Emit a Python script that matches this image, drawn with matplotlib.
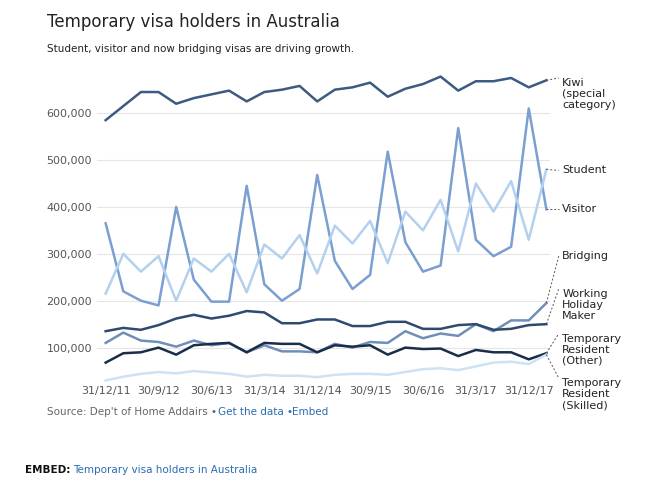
import matplotlib.pyplot as plt

# Quarterly data, 31/12/11 to 31/3/18
dates = ["31/12/11", "31/3/12", "30/6/12", "30/9/12", "31/12/12", "31/3/13", "30/6/13",
         "30/9/13", "31/12/13", "31/3/14", "30/6/14", "30/9/14", "31/12/14", "31/3/15",
         "30/6/15", "30/9/15", "31/12/15", "31/3/16", "30/6/16", "30/9/16", "31/12/16",
         "31/3/17", "30/6/17", "30/9/17", "31/12/17", "31/3/18"]
kiwi = [585, 615, 645, 645, 620, 632, 640, 648, 625, 645, 650, 658, 625, 650, 655, 665,
        635, 652, 662, 678, 648, 668, 668, 675, 655, 670]
visitor = [365, 220, 200, 190, 400, 245, 198, 198, 445, 235, 200, 225, 468, 285, 225, 255,
           518, 325, 262, 275, 568, 330, 295, 315, 610, 395]
student = [215, 300, 262, 295, 200, 290, 262, 300, 218, 320, 290, 340, 258, 360, 322, 370,
           280, 390, 350, 415, 305, 450, 390, 455, 330, 480]
bridging = [110, 132, 115, 112, 102, 115, 105, 110, 90, 105, 92, 92, 90, 108, 100, 112,
            110, 135, 120, 130, 125, 150, 135, 158, 158, 195]
working_holiday = [135, 142, 138, 148, 162, 170, 162, 168, 178, 175, 152, 152, 160, 160, 146,
                   146, 155, 155, 140, 140, 148, 150, 138, 140, 148, 150]
tr_other = [68, 88, 90, 100, 85, 105, 108, 110, 90, 110, 108, 108, 90, 105, 102, 105, 85,
            100, 97, 98, 82, 95, 90, 90, 75, 88]
tr_skilled = [30, 38, 44, 48, 45, 50, 47, 44, 38, 42, 40, 40, 37, 42, 44, 44, 42, 48, 54, 56,
              52, 60, 68, 70, 65, 85]

series = [
    ("Kiwi\n(special\ncategory)", kiwi, "#3d5a80", 670, 675),
    ("Visitor", visitor, "#7b9fd0", 395, 395),
    ("Student", student, "#b3d1ee", 480, 478),
    ("Bridging", bridging, "#6f8fb8", 195, 295),
    ("Working\nHoliday\nMaker", working_holiday, "#2e4a6e", 150, 225),
    ("Temporary\nResident\n(Other)", tr_other, "#1a2e4a", 88, 130),
    ("Temporary\nResident\n(Skilled)", tr_skilled, "#cde3f5", 85, 35),
]

fig = plt.figure(figsize=(6.5, 4.87), dpi=100)
fig.patch.set_facecolor("white")
ax = fig.add_axes([0.149, 0.214, 0.697, 0.65])
ax.set_facecolor("white")

x = list(range(len(dates)))
for name, vals, color, endv, labv in series:
    ax.plot(x, [v * 1000 for v in vals], color=color, lw=1.8)
    ax.plot([x[-1], x[-1] + 0.7], [endv * 1000, labv * 1000], color="#555555",
            lw=0.7, ls=(0, (2, 2)), clip_on=False)
    ax.text(x[-1] + 0.9, labv * 1000, name, fontsize=8, color="#222222",
            va="top" if "\n" in name else "center", ha="left", linespacing=1.15)

ax.set_xlim(-0.5, 25.2)
ax.set_ylim(25000, 700000)
ax.set_yticks([100000, 200000, 300000, 400000, 500000, 600000])
ax.set_yticklabels(["100,000", "200,000", "300,000", "400,000", "500,000", "600,000"])
ax.set_xticks(x[::3])
ax.set_xticklabels(dates[::3])
ax.tick_params(axis="both", length=0, labelsize=8, colors="#555555")
ax.tick_params(axis="x", pad=2)
ax.grid(axis="y", color="#e5e5e5", lw=0.8)
for s in ax.spines.values():
    s.set_visible(False)

fig.text(0.072, 0.945, "Temporary visa holders in Australia", fontsize=12, color="#222222")
fig.text(0.072, 0.893, "Student, visitor and now bridging visas are driving growth.",
         fontsize=7.5, color="#222222")
fig.text(0.072, 0.148, "Source: Dep't of Home Addairs \u2022", fontsize=7.5, color="#666666")
fig.text(0.335, 0.148, "Get the data", fontsize=7.5, color="#2b6cb0")
fig.text(0.44, 0.148, "\u2022Embed", fontsize=7.5, color="#2b6cb0")
fig.text(0.038, 0.028, "EMBED:", fontsize=7.5, color="#111111", fontweight="bold")
fig.text(0.112, 0.028, "Temporary visa holders in Australia", fontsize=7.5, color="#2b6cb0")

fig.savefig("out.png", dpi=100)
